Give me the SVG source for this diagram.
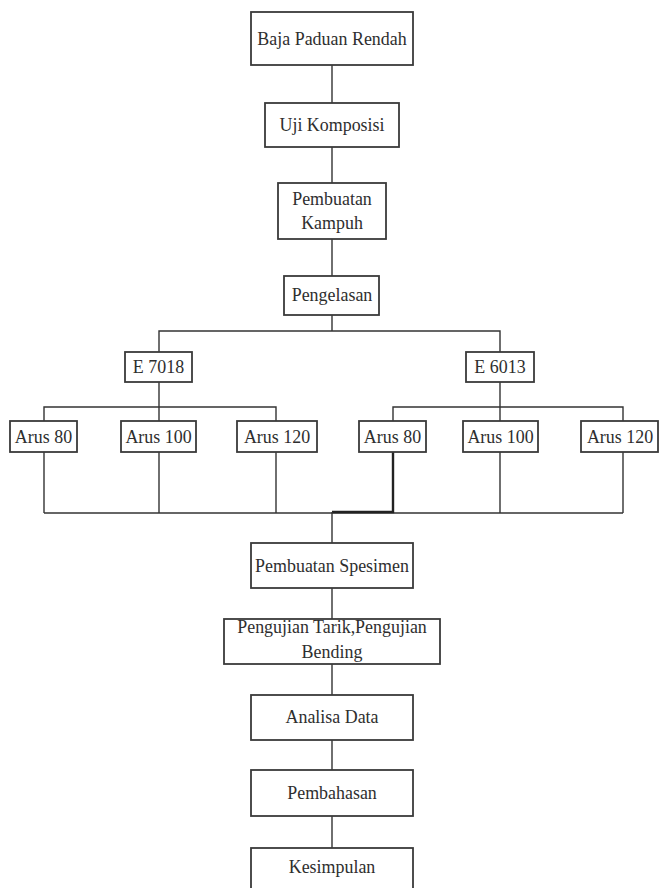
<svg xmlns="http://www.w3.org/2000/svg" width="659" height="888" viewBox="0 0 659 888">
<style>
.box{fill:#fff;stroke:#3a3a3a;stroke-width:1.8}
.t{font-family:"Liberation Serif","Times New Roman",serif;font-size:19.5px;fill:#2e2e2e;text-anchor:middle;transform-box:fill-box;transform-origin:center;transform:scaleX(0.92)}
.ln{fill:none;stroke:#333;stroke-width:1.4}
.th{fill:none;stroke:#222;stroke-width:2.4}
</style>
<rect width="659" height="888" fill="#fff"/>
<g id="connectors">
<line class="ln" x1="332" y1="65" x2="332" y2="103"/>
<line class="ln" x1="332" y1="147" x2="332" y2="183"/>
<line class="ln" x1="332" y1="239" x2="332" y2="276"/>
<line class="ln" x1="332" y1="315" x2="332" y2="331"/>
<polyline class="ln" points="159,352 159,331 500,331 500,352"/>
<line class="ln" x1="159" y1="382" x2="159" y2="407"/>
<polyline class="ln" points="44,421 44,407 276,407 276,421"/>
<line class="ln" x1="159" y1="407" x2="159" y2="421"/>
<line class="ln" x1="500" y1="382" x2="500" y2="407"/>
<polyline class="ln" points="393,421 393,407 623,407 623,421"/>
<line class="ln" x1="500" y1="407" x2="500" y2="421"/>
<line class="ln" x1="44" y1="452" x2="44" y2="513"/>
<line class="ln" x1="159" y1="452" x2="159" y2="513"/>
<line class="ln" x1="276" y1="452" x2="276" y2="513"/>
<line class="ln" x1="500" y1="452" x2="500" y2="513"/>
<line class="ln" x1="623" y1="452" x2="623" y2="513"/>
<line class="ln" x1="44" y1="513" x2="623" y2="513"/>
<polyline class="th" points="393,452 393,512 332,512"/>
<line class="ln" x1="332" y1="512" x2="332" y2="543"/>
<line class="ln" x1="332" y1="588" x2="332" y2="619"/>
<line class="ln" x1="332" y1="664" x2="332" y2="695"/>
<line class="ln" x1="332" y1="740" x2="332" y2="770"/>
<line class="ln" x1="332" y1="816" x2="332" y2="848"/>
</g>
<g id="baja"><rect class="box" x="251" y="12" width="162" height="53"/><text class="t" x="332" y="45">Baja Paduan Rendah</text></g>
<g id="uji"><rect class="box" x="265" y="103" width="134" height="44"/><text class="t" x="332" y="131">Uji Komposisi</text></g>
<g id="kampuh"><rect class="box" x="278" y="183" width="108" height="56"/><text class="t" x="332" y="205">Pembuatan</text><text class="t" x="332" y="229">Kampuh</text></g>
<g id="pengelasan"><rect class="box" x="284" y="276" width="95" height="39"/><text class="t" x="332" y="301">Pengelasan</text></g>
<g id="e7018"><rect class="box" x="125" y="352" width="67" height="30"/><text class="t" x="158.5" y="373">E 7018</text></g>
<g id="e6013"><rect class="box" x="466" y="352" width="68" height="30"/><text class="t" x="500" y="373">E 6013</text></g>
<g id="a80l"><rect class="box" x="10" y="421" width="67" height="31"/><text class="t" x="43.5" y="443">Arus 80</text></g>
<g id="a100l"><rect class="box" x="121" y="421" width="75" height="31"/><text class="t" x="158.5" y="443">Arus 100</text></g>
<g id="a120l"><rect class="box" x="237" y="421" width="80" height="31"/><text class="t" x="277" y="443">Arus 120</text></g>
<g id="a80r"><rect class="box" x="359" y="421" width="67" height="31"/><text class="t" x="392.5" y="443">Arus 80</text></g>
<g id="a100r"><rect class="box" x="463" y="421" width="75" height="31"/><text class="t" x="500.5" y="443">Arus 100</text></g>
<g id="a120r"><rect class="box" x="581" y="421" width="77" height="31"/><text class="t" x="620" y="443">Arus 120</text></g>
<g id="spesimen"><rect class="box" x="251" y="543" width="162" height="45"/><text class="t" x="332" y="572">Pembuatan Spesimen</text></g>
<g id="pengujian"><rect class="box" x="224" y="619" width="216" height="45"/><text class="t" x="332" y="633">Pengujian Tarik,Pengujian</text><text class="t" x="332" y="658">Bending</text></g>
<g id="analisa"><rect class="box" x="251" y="695" width="162" height="45"/><text class="t" x="332" y="723">Analisa Data</text></g>
<g id="pembahasan"><rect class="box" x="251" y="770" width="162" height="46"/><text class="t" x="332" y="799">Pembahasan</text></g>
<g id="kesimpulan"><rect class="box" x="251" y="848" width="162" height="45"/><text class="t" x="332" y="873">Kesimpulan</text></g>
</svg>
